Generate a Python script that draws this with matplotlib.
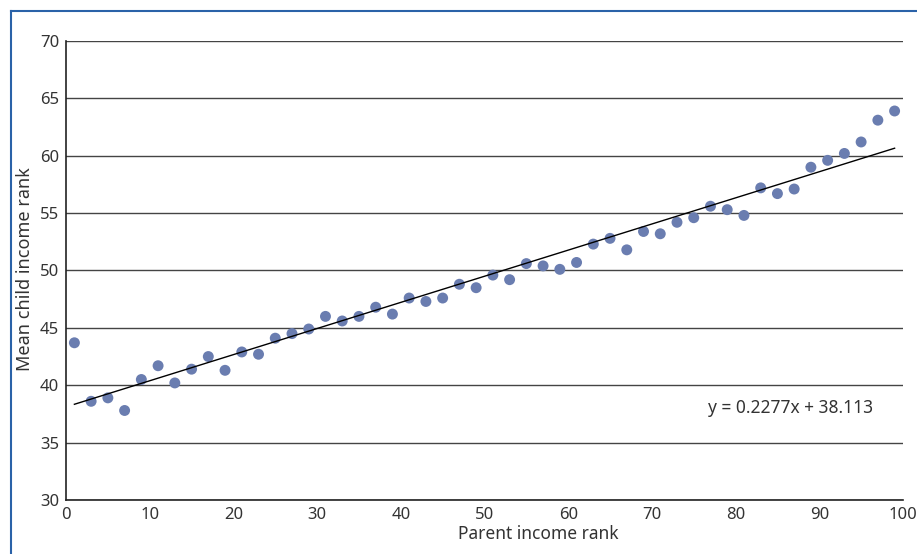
import matplotlib.pyplot as plt
from matplotlib.lines import Line2D
import numpy as np

parent_rank = np.arange(1, 100, 2)
child_rank = [43.7, 38.6, 38.9, 37.8, 40.5, 41.7, 40.2, 41.4, 42.5, 41.3,
              42.9, 42.7, 44.1, 44.5, 44.9, 46.0, 45.6, 46.0, 46.8, 46.2,
              47.6, 47.3, 47.6, 48.8, 48.5, 49.6, 49.2, 50.6, 50.4, 50.1,
              50.7, 52.3, 52.8, 51.8, 53.4, 53.2, 54.2, 54.6, 55.6, 55.3,
              54.8, 57.2, 56.7, 57.1, 59.0, 59.6, 60.2, 61.2, 63.1, 63.9]
slope, intercept = 0.2277, 38.113

text_color = '#333333'
plt.rcParams['font.family'] = ['Noto Sans', 'DejaVu Sans']

fig = plt.figure(figsize=(9.17, 5.54), dpi=100)
ax = fig.add_axes([0.072, 0.0975, 0.9127, 0.8285])

ax.yaxis.grid(True, color='#444444', linewidth=1.0)
ax.set_axisbelow(True)

ax.scatter(parent_rank, child_rank, s=62, color='#6A7DB0', edgecolor='none', zorder=3)

fit_x = np.array([parent_rank[0], parent_rank[-1]])
ax.plot(fit_x, slope * fit_x + intercept, color='black', linewidth=1.0, zorder=4)
ax.text(86.6, 38.0, f'y = {slope}x + {intercept}', ha='center', va='center',
        fontsize=12.5, color=text_color)

ax.set_xlim(0, 100)
ax.set_ylim(30, 70)
ax.set_xticks(range(0, 101, 10))
ax.set_yticks(range(30, 71, 5))
ax.tick_params(length=0, labelsize=12, colors=text_color, pad=5)

ax.set_xlabel('Parent income rank', fontsize=12.5, color=text_color)
ax.xaxis.set_label_coords(0.564, -0.055)
ax.set_ylabel('Mean child income rank', fontsize=13, color=text_color)
ax.yaxis.set_label_coords(-0.038, 0.503)

for side in ['top', 'right']:
    ax.spines[side].set_visible(False)
for side in ['left', 'bottom']:
    ax.spines[side].set_color('#222222')
    ax.spines[side].set_linewidth(1.2)

# blue frame of the original figure
fig.add_artist(Line2D([11/917, 11/917], [0, 1 - 11/554], color='#2A62A8', linewidth=1.5))
fig.add_artist(Line2D([11/917, 1], [1 - 11/554, 1 - 11/554], color='#2A62A8', linewidth=1.5))

fig.savefig('out.png', dpi=100)
